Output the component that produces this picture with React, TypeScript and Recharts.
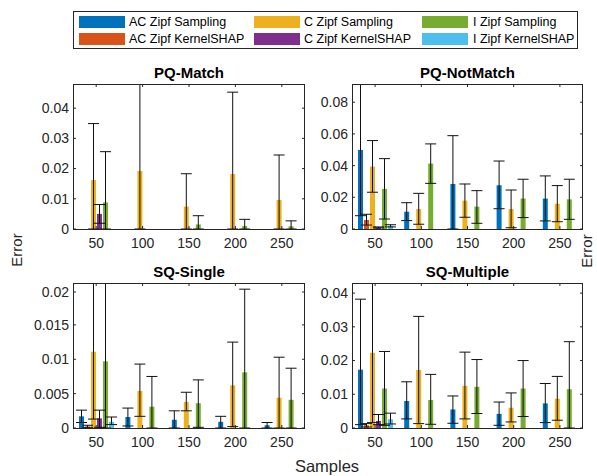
import { BarChart, Bar, XAxis, YAxis, ErrorBar } from 'recharts';

const samples = ['50', '100', '150', '200', '250'];
const seriesNames = [
  'AC Zipf Sampling', 'AC Zipf KernelSHAP',
  'C Zipf Sampling', 'C Zipf KernelSHAP',
  'I Zipf Sampling', 'I Zipf KernelSHAP',
];
const colors = ['#0072BD', '#D95319', '#EDB120', '#7E2F8E', '#77AC30', '#4DBEEE'];

// rows follow seriesNames order, columns follow samples
const pqMatchMean = [
  [0, 0, 0, 0, 0],
  [0, 0, 0, 0, 0],
  [0.0162, 0.0192, 0.0074, 0.0182, 0.0096],
  [0.005, 0, 0, 0, 0],
  [0.0088, 0, 0.0015, 0.001, 0.0009],
  [0, 0, 0, 0, 0],
];
const pqMatchLow = [
  [0, 0, 0, 0, 0],
  [0, 0, 0, 0, 0],
  [0, 0, 0, 0, 0],
  [0.0019, 0, 0, 0, 0],
  [0, 0, 0, 0, 0],
  [0, 0, 0, 0, 0],
];
const pqMatchHigh = [
  [0, 0, 0, 0, 0],
  [0, 0, 0, 0, 0],
  [0.0349, 0.055, 0.0183, 0.0453, 0.0245],
  [0.0081, 0, 0, 0, 0],
  [0.0256, 0, 0.0044, 0.0032, 0.0027],
  [0, 0, 0, 0, 0],
];

const pqNotMatchMean = [
  [0.0499, 0.0109, 0.0284, 0.0276, 0.0192],
  [0.0057, 0, 0, 0, 0],
  [0.0394, 0.0126, 0.0179, 0.0126, 0.016],
  [0.001, 0, 0, 0, 0],
  [0.0253, 0.0413, 0.0141, 0.0192, 0.0187],
  [0.002, 0, 0, 0, 0],
];
const pqNotMatchLow = [
  [0.0084, 0.0053, 0, 0.0128, 0.0051],
  [0.0025, 0, 0, 0, 0],
  [0.0232, 0.003, 0.0074, 0.0008, 0.0046],
  [0.0007, 0, 0, 0, 0],
  [0.0063, 0.0288, 0.0036, 0.0072, 0.0061],
  [0.0013, 0, 0, 0, 0],
];
const pqNotMatchHigh = [
  [0.097, 0.0166, 0.0589, 0.0429, 0.0335],
  [0.0093, 0, 0, 0, 0],
  [0.0558, 0.0225, 0.0284, 0.0246, 0.0274],
  [0.0013, 0, 0, 0, 0],
  [0.0444, 0.0537, 0.0242, 0.0314, 0.0314],
  [0.0027, 0, 0, 0, 0],
];

const sqSingleMean = [
  [0.0017, 0.0016, 0.0012, 0.0009, 0.0004],
  [0.0002, 0, 0, 0, 0],
  [0.0111, 0.0054, 0.0038, 0.0062, 0.0044],
  [0.0014, 0, 0, 0, 0],
  [0.0097, 0.0031, 0.0036, 0.0081, 0.0041],
  [0.0009, 0, 0, 0, 0],
];
const sqSingleLow = [
  [0.0008, 0.0003, 0, 0, 0],
  [0.0001, 0, 0, 0, 0],
  [0.0013, 0.0017, 0.0025, 0.0002, 0],
  [0.0001, 0, 0, 0, 0],
  [0, 0, 0.0001, 0, 0],
  [0.0005, 0, 0, 0, 0],
];
const sqSingleHigh = [
  [0.0026, 0.0029, 0.0025, 0.0017, 0.0008],
  [0.0004, 0, 0, 0, 0],
  [0.023, 0.0093, 0.0052, 0.0125, 0.0103],
  [0.0026, 0, 0, 0, 0],
  [0.023, 0.0075, 0.007, 0.0202, 0.0087],
  [0.0016, 0, 0, 0, 0],
];

const sqMultipleMean = [
  [0.0173, 0.008, 0.0055, 0.0042, 0.0073],
  [0.0008, 0, 0, 0, 0],
  [0.0223, 0.0172, 0.0125, 0.006, 0.0087],
  [0.0021, 0, 0, 0, 0],
  [0.0117, 0.0083, 0.0122, 0.0117, 0.0115],
  [0.0026, 0, 0, 0, 0],
];
const sqMultipleLow = [
  [0.001, 0.0027, 0.0014, 0.0008, 0.0016],
  [0.0003, 0, 0, 0, 0],
  [0.0016, 0.0013, 0.0027, 0.0018, 0.0023],
  [0.001, 0, 0, 0, 0],
  [0.0008, 0.0011, 0.0043, 0.0034, 0],
  [0.0012, 0, 0, 0, 0],
];
const sqMultipleHigh = [
  [0.0382, 0.0137, 0.0095, 0.0077, 0.0132],
  [0.0013, 0, 0, 0, 0],
  [0.046, 0.0331, 0.0225, 0.0104, 0.0153],
  [0.004, 0, 0, 0, 0],
  [0.0227, 0.0159, 0.0203, 0.02, 0.0256],
  [0.0044, 0, 0, 0, 0],
];

const FONT = '"Liberation Sans", Arial, sans-serif';
const AX = '#262626';
const PLOT_H = 145;
const CHART_H = PLOT_H + 31;

const fmt = (v: number) => (v === 0 ? '0' : String(parseFloat(v.toFixed(4))));

function buildRows(mean: number[][], low: number[][], high: number[][]) {
  return samples.map((s, j) => {
    const row: any = { samples: s };
    mean.forEach((m, i) => {
      row['m' + i] = m[j];
      row['e' + i] = [Math.max(0, m[j] - low[i][j]), Math.max(0, high[i][j] - m[j])];
    });
    return row;
  });
}

function Panel({ title, mean, low, high, yMax, yTicks, left, top, yW, width, right }: any) {
  const plotW = width - yW - right;
  const data = buildRows(mean, low, high);
  const yTick = (p: any) => {
    const ax = p.x + 4;
    return (
      <g>
        <line x1={ax} x2={ax + 3} y1={p.y} y2={p.y} stroke={AX} />
        <line x1={ax + plotW - 3} x2={ax + plotW} y1={p.y} y2={p.y} stroke={AX} />
        <text x={p.x} y={p.y} dy="0.35em" textAnchor="end" fontSize={14} fill={AX} fontFamily={FONT}>
          {fmt(p.payload.value)}
        </text>
      </g>
    );
  };
  const xTick = (p: any) => {
    const ay = p.y - 9;
    return (
      <g>
        <line x1={p.x} x2={p.x} y1={ay} y2={ay - 3} stroke={AX} />
        <line x1={p.x} x2={p.x} y1={ay - PLOT_H} y2={ay - PLOT_H + 3} stroke={AX} />
        <text x={p.x} y={p.y} dy="0.71em" textAnchor="middle" fontSize={14} fill={AX} fontFamily={FONT}>
          {p.payload.value}
        </text>
      </g>
    );
  };
  return (
    <>
      <div
        style={{
          position: 'absolute', left: left + yW, top: top - 20, width: plotW, textAlign: 'center',
          fontFamily: FONT, fontWeight: 'bold', fontSize: 15, color: '#000',
        }}
      >
        {title}
      </div>
      <div style={{ position: 'absolute', left, top, width, height: CHART_H, overflow: 'hidden' }}>
        <BarChart
          width={width}
          height={CHART_H}
          data={data}
          margin={{ top: 0, right, bottom: 1, left: 0 }}
          barGap={1}
        >
          <XAxis
            dataKey="samples"
            interval={0}
            height={30}
            tickSize={4}
            tickMargin={5}
            tickLine={false}
            axisLine={false}
            tick={xTick}
          />
          <YAxis
            type="number"
            domain={[0, yMax]}
            ticks={yTicks}
            allowDataOverflow
            width={yW}
            tickSize={2}
            tickMargin={2}
            tickLine={false}
            axisLine={false}
            tick={yTick}
          />
          {colors.map((c, i) => (
            <Bar key={i} dataKey={'m' + i} name={seriesNames[i]} fill={c} barSize={5} isAnimationActive={false}>
              <ErrorBar dataKey={'e' + i} width={5.5} stroke="#111" strokeWidth={1} isAnimationActive={false} />
            </Bar>
          ))}
        </BarChart>
        <div
          style={{
            position: 'absolute', left: yW, top: 0, width: plotW, height: PLOT_H + 1,
            border: `1px solid ${AX}`, boxSizing: 'border-box', pointerEvents: 'none',
          }}
        />
      </div>
    </>
  );
}

function LegendBox() {
  const cols = [
    { sw: 5, tx: 55 },
    { sw: 180, tx: 230 },
    { sw: 348, tx: 399 },
  ];
  return (
    <div
      style={{
        position: 'absolute', left: 73, top: 11, width: 505, height: 38,
        border: `1px solid ${AX}`, boxSizing: 'border-box', background: '#fff',
      }}
    >
      {seriesNames.map((n, i) => {
        const col = cols[Math.floor(i / 2)];
        const rowTop = i % 2 === 0 ? 4 : 21;
        return (
          <div key={n}>
            <div style={{ position: 'absolute', left: col.sw, top: rowTop, width: 46, height: 12, background: colors[i] }} />
            <div
              style={{
                position: 'absolute', left: col.tx, top: rowTop - 2, lineHeight: '16px',
                fontFamily: FONT, fontSize: 12.5, color: '#000', whiteSpace: 'nowrap',
              }}
            >
              {n}
            </div>
          </div>
        );
      })}
    </div>
  );
}

export default function App() {
  return (
    <div style={{ position: 'absolute', left: 0, top: 0, width: 597, height: 476, background: '#fff', overflow: 'hidden' }}>
      <Panel title="PQ-Match" mean={pqMatchMean} low={pqMatchLow} high={pqMatchHigh}
        yMax={0.048} yTicks={[0, 0.01, 0.02, 0.03, 0.04]} left={0} top={84} yW={73} width={310} right={5} />
      <Panel title="PQ-NotMatch" mean={pqNotMatchMean} low={pqNotMatchLow} high={pqNotMatchHigh}
        yMax={0.0915} yTicks={[0, 0.02, 0.04, 0.06, 0.08]} left={300} top={84} yW={52} width={297} right={14} />
      <Panel title="SQ-Single" mean={sqSingleMean} low={sqSingleLow} high={sqSingleHigh}
        yMax={0.0211} yTicks={[0, 0.005, 0.01, 0.015, 0.02]} left={0} top={283} yW={73} width={310} right={5} />
      <Panel title="SQ-Multiple" mean={sqMultipleMean} low={sqMultipleLow} high={sqMultipleHigh}
        yMax={0.043} yTicks={[0, 0.01, 0.02, 0.03, 0.04]} left={300} top={283} yW={52} width={297} right={14} />
      <svg width={597} height={476} style={{ position: 'absolute', left: 0, top: 0, pointerEvents: 'none' }}>
        <text transform="translate(22,250) rotate(-90)" textAnchor="middle" fontSize={15} fontFamily={FONT} fill={AX}>Error</text>
        <text transform="translate(592,251) rotate(-90)" textAnchor="middle" fontSize={15} fontFamily={FONT} fill={AX}>Error</text>
        <text x={327} y={472} textAnchor="middle" fontSize={16.5} fontFamily={FONT} fill={AX}>Samples</text>
      </svg>
      <LegendBox />
    </div>
  );
}
